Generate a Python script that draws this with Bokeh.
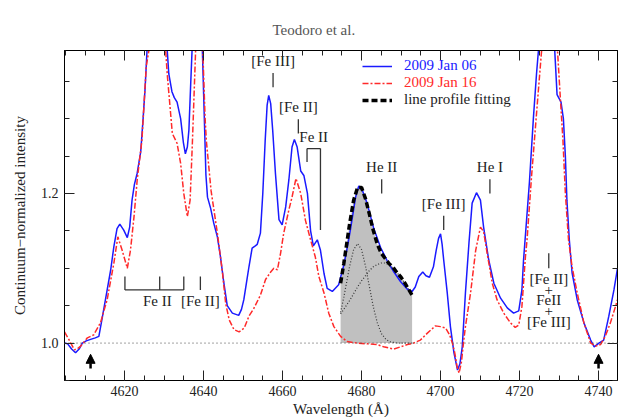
from bokeh.plotting import figure
from bokeh.models import (LinearAxis, SingleIntervalTicker, Range1d, Legend, LegendItem,
                          Arrow, NormalHead, Span, PrintfTickFormatter, CustomJSTickFormatter,
                          Title)
from bokeh.core.properties import value
from bokeh.embed import file_html
from bokeh.resources import INLINE

SERIF = "Liberation Serif"

# --- spectrum of 2009 Jan 06 (wavelength in Angstrom, continuum-normalized flux)
wl_jan06 = [4604.8, 4605.6, 4606.6, 4607.6, 4608.5, 4609.3, 4610.3, 4611.4, 4612.6, 4613.5,
            4614.4, 4615.6, 4616.5, 4617.3, 4618.1, 4618.8, 4619.8, 4620.7, 4621.3, 4621.9,
            4622.5, 4623.2, 4624.1, 4624.7, 4625.2, 4625.7, 4626.5, 4628.0, 4629.8, 4630.8,
            4631.2, 4632.0, 4632.6, 4633.3, 4634.2, 4634.9, 4635.4, 4635.9, 4636.3, 4636.7,
            4637.1, 4638.2, 4639.0, 4639.7, 4640.2, 4640.6, 4641.0, 4641.8, 4642.6, 4643.5,
            4644.3, 4645.1, 4646.0, 4647.3, 4648.9, 4649.6, 4650.2, 4651.0, 4651.5, 4652.3,
            4653.1, 4653.6, 4654.4, 4655.0, 4655.6, 4656.1, 4656.5, 4657.0, 4657.5, 4658.2,
            4659.1, 4659.9, 4660.8, 4661.6, 4662.4, 4663.0, 4663.7, 4664.6, 4665.4, 4666.3,
            4667.1, 4667.8, 4668.8, 4669.6, 4670.5, 4671.3, 4672.6, 4674.2, 4675.5, 4676.4,
            4677.2, 4678.5, 4679.3, 4680.3, 4681.4, 4683.1, 4684.8, 4686.5, 4688.2, 4689.9,
            4691.6, 4692.8, 4693.6, 4694.5, 4695.5, 4696.3, 4697.2, 4698.2, 4698.9, 4699.5,
            4700.0, 4700.4, 4700.8, 4701.7, 4702.5, 4703.4, 4704.3, 4704.9, 4705.5, 4706.3,
            4707.2, 4708.0, 4709.1, 4710.1, 4710.9, 4712.2, 4713.5, 4715.2, 4716.9, 4718.5,
            4719.8, 4720.6, 4721.0, 4721.4, 4722.5, 4723.5, 4724.3, 4724.8, 4726.0, 4727.5,
            4728.4, 4728.9, 4729.5, 4730.5, 4731.1, 4731.6, 4732.0, 4732.6, 4733.3, 4734.6,
            4736.3, 4738.0, 4738.9, 4740.1, 4741.3, 4742.6, 4743.9, 4744.8]
fl_jan06 = [1.000, 0.999, 0.992, 0.987, 0.992, 1.000, 1.003, 1.005, 1.007, 1.009,
            1.035, 1.071, 1.098, 1.129, 1.153, 1.159, 1.151, 1.141, 1.155, 1.191,
            1.212, 1.227, 1.256, 1.300, 1.340, 1.392, 1.480, 1.560, 1.480, 1.392,
            1.360, 1.336, 1.328, 1.322, 1.300, 1.268, 1.253, 1.262, 1.285, 1.340,
            1.392, 1.550, 1.520, 1.392, 1.300, 1.225, 1.195, 1.180, 1.160, 1.142,
            1.115, 1.082, 1.050, 1.040, 1.037, 1.045, 1.058, 1.085, 1.102, 1.127,
            1.130, 1.132, 1.147, 1.200, 1.270, 1.318, 1.331, 1.320, 1.285, 1.227,
            1.165, 1.158, 1.182, 1.218, 1.262, 1.272, 1.262, 1.230, 1.224, 1.200,
            1.150, 1.130, 1.138, 1.124, 1.093, 1.073, 1.069, 1.078, 1.104, 1.128,
            1.152, 1.195, 1.210, 1.203, 1.187, 1.153, 1.128, 1.110, 1.095, 1.082,
            1.072, 1.069, 1.075, 1.089, 1.095, 1.090, 1.088, 1.102, 1.124, 1.140,
            1.146, 1.132, 1.111, 1.067, 1.022, 0.987, 0.964, 0.972, 0.995, 1.067,
            1.134, 1.187, 1.201, 1.191, 1.155, 1.111, 1.080, 1.060, 1.047, 1.040,
            1.043, 1.071, 1.110, 1.138, 1.215, 1.300, 1.360, 1.392, 1.550, 1.620,
            1.500, 1.392, 1.332, 1.322, 1.300, 1.250, 1.190, 1.138, 1.094, 1.058,
            1.027, 1.004, 0.995, 1.000, 1.004, 1.036, 1.071, 1.100]

# --- spectrum of 2009 Jan 16
wl_jan16 = [4604.8, 4606.0, 4607.3, 4608.2, 4608.9, 4610.6, 4612.2, 4613.9, 4615.6, 4617.3,
            4618.3, 4619.4, 4620.7, 4621.5, 4622.4, 4623.2, 4624.4, 4625.5, 4626.2, 4627.5,
            4629.2, 4630.4, 4630.8, 4632.1, 4633.3, 4634.2, 4635.0, 4635.9, 4636.6, 4637.2,
            4638.0, 4638.9, 4639.8, 4640.4, 4640.7, 4641.9, 4643.5, 4644.8, 4645.6, 4646.5,
            4647.7, 4649.0, 4650.3, 4651.5, 4652.7, 4654.4, 4655.7, 4657.0, 4657.8, 4658.7,
            4659.5, 4660.3, 4661.6, 4662.4, 4663.4, 4664.6, 4665.8, 4667.1, 4668.3, 4669.2,
            4670.5, 4671.7, 4673.0, 4674.7, 4676.4, 4678.9, 4681.5, 4684.0, 4685.6, 4688.2,
            4689.9, 4691.6, 4693.2, 4694.9, 4696.6, 4698.7, 4700.0, 4701.3, 4702.3, 4703.0,
            4703.6, 4704.2, 4704.7, 4705.3, 4705.8, 4706.3, 4707.6, 4708.9, 4710.1, 4710.9,
            4711.8, 4713.1, 4714.3, 4716.0, 4717.7, 4718.9, 4719.8, 4720.6, 4721.5, 4721.9,
            4723.0, 4724.5, 4725.6, 4727.0, 4728.5, 4729.6, 4730.3, 4731.0, 4731.6, 4732.4,
            4733.3, 4734.6, 4736.3, 4738.0, 4739.3, 4740.5, 4741.7, 4743.0, 4744.3, 4744.8]
fl_jan16 = [1.015, 1.004, 0.991, 0.993, 0.996, 1.007, 1.011, 1.027, 1.058, 1.107,
            1.142, 1.124, 1.100, 1.124, 1.169, 1.218, 1.271, 1.370, 1.392, 1.600,
            1.620, 1.392, 1.360, 1.280, 1.267, 1.240, 1.200, 1.169, 1.191, 1.271,
            1.392, 1.620, 1.392, 1.300, 1.271, 1.204, 1.147, 1.094, 1.053, 1.031,
            1.018, 1.015, 1.020, 1.036, 1.046, 1.064, 1.085, 1.095, 1.100, 1.098,
            1.120, 1.147, 1.178, 1.195, 1.220, 1.200, 1.164, 1.138, 1.115, 1.089,
            1.067, 1.040, 1.022, 1.009, 1.002, 1.000, 0.999, 0.998, 0.995, 0.992,
            0.995, 0.998, 1.000, 1.004, 1.013, 1.023, 1.022, 1.020, 1.011, 1.000,
            0.987, 0.968, 0.960, 0.975, 1.000, 1.022, 1.067, 1.124, 1.155, 1.149,
            1.120, 1.080, 1.058, 1.040, 1.027, 1.021, 1.024, 1.049, 1.116, 1.138,
            1.220, 1.320, 1.392, 1.620, 1.620, 1.392, 1.330, 1.270, 1.200, 1.138,
            1.102, 1.067, 1.027, 1.000, 0.996, 0.998, 1.009, 1.027, 1.049, 1.058]

# --- He II 4686 profile fit: two components, heights above the continuum
wl_fit = [4674.7, 4675.5, 4676.0, 4677.0, 4678.0, 4679.0, 4680.0, 4681.0, 4682.0, 4683.0,
          4684.0, 4685.0, 4686.0, 4687.0, 4688.0, 4689.0, 4690.0, 4691.0, 4692.0, 4692.8]
comp_narrow = [0.041, 0.061, 0.075, 0.103, 0.125, 0.133, 0.125, 0.103, 0.075, 0.048,
               0.027, 0.013, 0.006, 0.002, 0.001, 0.000, 0.000, 0.000, 0.000, 0.000]
comp_broad = [0.039, 0.045, 0.049, 0.057, 0.066, 0.075, 0.083, 0.090, 0.097, 0.102,
              0.105, 0.107, 0.107, 0.104, 0.100, 0.094, 0.088, 0.080, 0.071, 0.064]
continuum_level = 1.0

# --- line identifications (label, wavelength)
id_labels = ["[Fe III]", "[Fe II]", "He II", "[Fe III]", "He I"]
id_wavelengths = [4657.6, 4664.0, 4685.1, 4700.8, 4712.5]
id_levels = [1.342, 1.280, 1.200, 1.151, 1.200]      # lower end of each marker

fe2_blend_wl = [4620.1, 4628.9, 4635.0]               # Fe II blend, bracketed below
fe2_forbidden_wl = 4639.2                             # [Fe II]
fe2_pair_wl = [4666.2, 4669.6]                        # Fe II pair near 4668
blend_4727_wl = 4727.4                                # [Fe II] + FeII + [Fe III]

# continuum windows marked with arrows
continuum_wl = [4611.4, 4740.0]

# ---------------------------------------------------------------------------
p = figure(width=621, height=419, output_backend="svg", toolbar_location=None,
           x_range=Range1d(4604.8, 4744.8), y_range=Range1d(0.95, 1.391),
           x_axis_type=None, y_axis_type=None, title=None,
           min_border_left=64, min_border_right=4, min_border_top=50, min_border_bottom=38,
           background_fill_color="white", border_fill_color="white")
p.outline_line_color = "black"
p.outline_line_width = 1
p.grid.visible = False

blank_labels = CustomJSTickFormatter(code="return ''")

def make_axis(ticker, labels=True, **kw):
    if not labels:
        kw["formatter"] = blank_labels
    ax = LinearAxis(ticker=ticker, **kw)
    ax.major_tick_in = 10
    ax.major_tick_out = 0
    ax.minor_tick_in = 5
    ax.minor_tick_out = 0
    ax.axis_line_color = "black"
    ax.major_tick_line_color = "#222222"
    ax.minor_tick_line_color = "#222222"
    ax.major_label_text_font = SERIF
    ax.major_label_text_color = "#222222"
    ax.axis_label_text_font = SERIF
    ax.axis_label_text_font_style = "normal"
    ax.axis_label_text_color = "#222222"
    if not labels:
        ax.major_label_standoff = 0
        ax.major_label_text_font_size = "1px"
    return ax

xticker = SingleIntervalTicker(interval=20, num_minor_ticks=4)
yticker = SingleIntervalTicker(interval=0.2, num_minor_ticks=4)

xaxis = make_axis(xticker, axis_label="Wavelength (Å)")
xaxis.major_label_text_font_size = "14px"
xaxis.axis_label_text_font_size = "15px"
xaxis.major_label_standoff = 5
xaxis.axis_label_standoff = 2
p.add_layout(xaxis, "below")

yaxis = make_axis(yticker, axis_label="Continuum\u2212normalized intensity",
                  formatter=PrintfTickFormatter(format="%.1f"))
yaxis.major_label_text_font_size = "14px"
yaxis.axis_label_text_font_size = "15px"
yaxis.major_label_standoff = 6
yaxis.axis_label_standoff = 10
p.add_layout(yaxis, "left")

p.add_layout(make_axis(xticker, labels=False), "above")
p.add_layout(make_axis(yticker, labels=False), "right")

# running header, outermost panel above the frame
p.add_layout(Title(text="Teodoro et al.", align="left", offset=208, standoff=26,
                   text_font=SERIF, text_font_size="15px", text_font_style="normal",
                   text_color="#555555"), "above")

# shaded He II profile and continuum
fit_total = [continuum_level + a + b for a, b in zip(comp_narrow, comp_broad)]
p.varea(x=wl_fit, y1=[continuum_level] * len(wl_fit), y2=fit_total,
        fill_color="#c0c0c0", fill_alpha=1.0)
p.add_layout(Span(location=continuum_level, dimension="width", line_color="#444444",
                  line_width=1, line_dash="1 3"))

r_jan06 = p.line(wl_jan06, fl_jan06, line_color="#1a1aff", line_width=1.5)
r_jan16 = p.line(wl_jan16, fl_jan16, line_color="#ff2a2a", line_width=1.5,
                 line_dash="6 2 2 2")

for comp in (comp_narrow, comp_broad):
    p.line(wl_fit, [continuum_level + c for c in comp], line_color="#333333",
           line_width=1.2, line_dash="1 2")
r_fit = p.line(wl_fit, fit_total, line_color="black", line_width=3.5, line_dash="6 3")

# line identification markers
ANN = "#333333"
tick_len = 0.019
p.segment(x0=id_wavelengths, y0=id_levels, x1=id_wavelengths,
          y1=[v + tick_len for v in id_levels], line_color=ANN, line_width=1.3)
p.text(x=id_wavelengths, y=[v + tick_len + 0.016 for v in id_levels], text=id_labels,
       text_font=value(SERIF), text_font_size="15px", text_color="#222222",
       text_align="center", text_baseline="middle")

# Fe II blend bracket and [Fe II] marker (lower left)
yb, yt = 1.071, 1.089
p.segment(x0=[fe2_blend_wl[0]], y0=[yb], x1=[fe2_blend_wl[-1]], y1=[yb],
          line_color=ANN, line_width=1.3)
p.segment(x0=fe2_blend_wl + [fe2_forbidden_wl], y0=[yb] * 4,
          x1=fe2_blend_wl + [fe2_forbidden_wl], y1=[yt] * 4, line_color=ANN, line_width=1.3)
p.text(x=[fe2_blend_wl[1] - 0.6, fe2_forbidden_wl], y=[1.056, 1.056], text=["Fe II", "[Fe II]"],
       text_font=value(SERIF), text_font_size="15px", text_color="#222222",
       text_align="center", text_baseline="middle")

# Fe II pair bracket
p.segment(x0=[fe2_pair_wl[0], fe2_pair_wl[0], fe2_pair_wl[1]],
          y0=[1.260, 1.260, 1.260],
          x1=[fe2_pair_wl[1], fe2_pair_wl[0], fe2_pair_wl[1]],
          y1=[1.260, 1.242, 1.151], line_color=ANN, line_width=1.3)
p.text(x=[sum(fe2_pair_wl) / 2], y=[1.276], text=["Fe II"],
       text_font=value(SERIF), text_font_size="15px", text_color="#222222",
       text_align="center", text_baseline="middle")

# 4727 blend
p.segment(x0=[blend_4727_wl], y0=[1.100], x1=[blend_4727_wl], y1=[1.120],
          line_color=ANN, line_width=1.3)
p.text(x=[blend_4727_wl] * 5, y=[1.085, 1.071, 1.057, 1.043, 1.028],
       text=["[Fe II]", "+", "FeII", "+", "[Fe III]"],
       text_font=value(SERIF), text_font_size="15px", text_color="#222222",
       text_align="center", text_baseline="middle")

# continuum windows
for wl in continuum_wl:
    p.add_layout(Arrow(end=NormalHead(size=9, fill_color="black", line_color="black"),
                       x_start=wl, y_start=0.966, x_end=wl, y_end=0.985,
                       line_color="black", line_width=2.5))

# legend: one block per entry so each label keeps its own colour
legend_rows = [("2009 Jan 06", r_jan06, "#1a1aff", 306),
               ("2009 Jan 16", r_jan16, "#ff2a2a", 289),
               ("line profile fitting", r_fit, "#222222", 272)]
for label, rend, color, ypos in legend_rows:
    leg = Legend(items=[LegendItem(label=label, renderers=[rend])], location=(298, ypos),
                 label_text_color=color, label_text_font=SERIF, label_text_font_size="15px",
                 glyph_width=30, glyph_height=16, label_height=16, label_standoff=12,
                 padding=0, margin=0, spacing=0, border_line_color=None,
                 background_fill_alpha=0)
    p.add_layout(leg)

open("out.html", "w").write(file_html(p, INLINE))
